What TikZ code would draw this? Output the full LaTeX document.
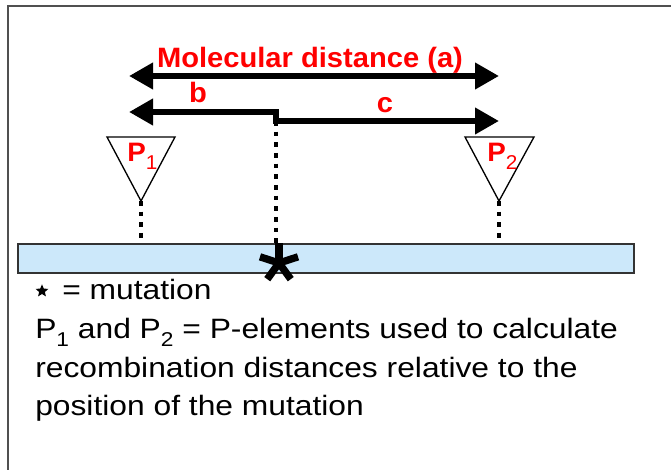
\documentclass[tikz,border=0pt]{standalone}
\usepackage{fontspec}
\setmainfont{Liberation Sans}
\newfontfamily\bodyfont[FakeStretch=1.135]{Liberation Sans}
\newfontfamily\headfont[FakeStretch=1.04]{Liberation Sans}
\usetikzlibrary{arrows.meta,shapes.geometric}
\definecolor{barblue}{HTML}{CCE8FA}
\definecolor{framegray}{HTML}{505050}
\definecolor{labred}{HTML}{FF0000}
\newcommand\lowsub[1]{\raisebox{-6pt}{\fontsize{15}{15}\selectfont #1}}
\begin{document}
\begin{tikzpicture}[x=0.75pt,y=-0.75pt,
  distarrow/.style={line width=4.5pt,
    arrows={Triangle[length=18pt,width=19pt]-Triangle[length=18pt,width=19pt]}},
  redlab/.style={inner sep=0pt, text=labred, font=\headfont\bfseries\fontsize{21}{21}\selectfont},
  plab/.style={inner sep=0pt, text=labred, font=\headfont\bfseries\fontsize{20}{20}\selectfont},
  legend/.style={inner sep=0pt, anchor=base west, font=\bodyfont\fontsize{21}{21}\selectfont},
  pelem/.style={draw=black, line width=1pt, fill=white},
  dotline/.style={line width=3.5pt, dash pattern=on 3.5pt off 4.5pt},
]
\useasboundingbox (0,0) rectangle (671,470);
% frame (cropped)
\draw[framegray, line width=2pt] (8,470) -- (8,6) -- (671,6);

% chromosome bar
\node[draw=black!80, line width=1.2pt, fill=barblue, minimum width=462pt, minimum height=21.75pt, inner sep=0pt, anchor=north west] (bar) at (17,243) {};

% distance labels and arrows
\node[redlab, anchor=base] (title) at (310,68) {Molecular distance (a)};
\node[redlab, anchor=base] (blab) at (198,103) {b};
\node[redlab, anchor=base] (clab) at (385,113) {c};

\coordinate (aL) at (129,76);
\coordinate (aR) at (499,76);
\coordinate (bL) at (129,112);
\coordinate (bM) at (276,112);
\coordinate (cM) at (276,121);
\coordinate (cR) at (499,121);
\draw[distarrow] (aL) -- (aR);
\draw[distarrow] (bL) -- (bM) -- (cM) -- (cR);

% P elements
\coordinate (t1) at (141,201);
\coordinate (t2) at (499,201);
\draw[pelem] (107,137) -- (175,137) -- (t1) -- cycle;
\draw[pelem] (465,137) -- (534,137) -- (t2) -- cycle;
\node[plab, anchor=base west] (p1) at (127,162) {P\lowsub{\mdseries 1}};
\node[plab, anchor=base west] (p2) at (487,162) {P\lowsub{\mdseries 2}};

% dotted connectors
\draw[dotline] (t1) -- (t1 |- bar.north);
\draw[dotline] (t2) -- (t2 |- bar.north);
\draw[dotline] (cM) -- (cM |- bar.north);

% mutation asterisk
\coordinate (mut) at (279,263);
\foreach \a in {90,18,162,234,-54}
  \draw[line width=5.5pt] (mut) -- ++(\a:15pt);

% legend
\node[star, star points=5, star point ratio=2.2, fill=black, inner sep=0pt, minimum size=10pt] (legstar) at (42,291) {};
\node[legend] (l1) at (62,300) {= mutation};
\node[legend] (l2) at (35,338) {P\lowsub{1} and P\lowsub{2} = P-elements used to calculate};
\node[legend] (l3) at (35,377) {recombination distances relative to the};
\node[legend] (l4) at (35,415) {position of the mutation};
\end{tikzpicture}
\end{document}
